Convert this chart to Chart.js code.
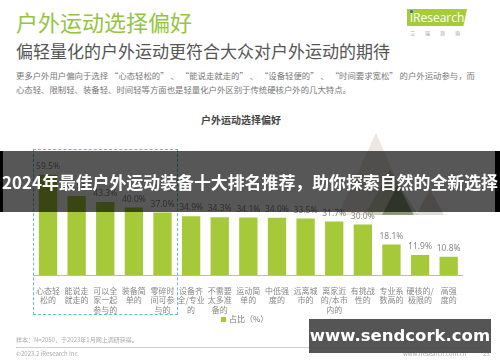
<!DOCTYPE html>
<html>
<head>
<meta charset="utf-8">
<script src="https://cdn.jsdelivr.net/npm/chart.js@4"></script>
<style>
  body { margin: 0; width: 500px; height: 362px; background: #fff; position: relative; overflow: hidden;
         font-family: "Noto Sans CJK SC", "Noto Sans", sans-serif; }
  .abs { position: absolute; white-space: nowrap; }
  #title { left: 16px; top: 6px; font-size: 22px; color: #95c541; line-height: 30px; }
  #subtitle { left: 16px; top: 40px; font-size: 17px; color: #555; line-height: 22px; }
  .para { left: 16px; font-size: 8.4px; color: #777; line-height: 12px; }
  #ctitle { left: 201px; top: 112px; font-size: 10px; font-weight: bold; color: #444; }
  #logo { left: 407px; top: 9px; width: 60px; height: 17px; background: #a6cd39;
          clip-path: polygon(0 0, 100% 0, 94% 100%, 0 100%); }
  #logo span { position: absolute; left: 3px; top: 0px; font-family: "Open Sans", sans-serif; font-size: 12px;
               color: #fff; line-height: 17px; }
  #logo i { position: absolute; left: 3px; top: 1px; width: 3px; height: 3px; border-radius: 2px; background: #2a6fb7; }
  #logosub { left: 410px; top: 29px; font-size: 5px; color: #999; letter-spacing: 10px; }
  #box { left: 33px; top: 149px; width: 143px; height: 164px; border: 1.5px dashed #6db8cc; }
  #wrap { left: 33px; top: 135px; width: 430px; height: 180px; }
  #legend { left: 221px; top: 313px; font-size: 8px; color: #777; }
  #legend b { display: inline-block; width: 5px; height: 5px; background: #a6c93a; margin-right: 3px; vertical-align: 0px; }
  .foot { font-size: 6px; color: #aaa; }
  #rule { left: 16px; top: 347px; width: 466px; height: 1px; background: #d0d0d0; }
  #band { left: 0; top: 151px; width: 500px; height: 61px; background: rgba(0,0,0,0.66);
          border-left: 3px solid #000; box-sizing: border-box; }
  #bandR { left: 495px; top: 151px; width: 5px; height: 61px; background: #000; }
  #bandtext { left: 0; top: 151px; width: 500px; height: 61px; line-height: 61px; text-align: center;
              font-size: 16.9px; font-weight: bold; color: #fff; }
  #wm { left: 309px; top: 319px; width: 182px; height: 34px; background: rgba(70,70,70,0.92); }
  #wmtext { left: 309px; top: 319px; width: 182px; height: 34px; line-height: 33px; text-align: center;
            font-family: "DejaVu Sans", sans-serif; font-weight: bold; font-size: 16.5px; color: #fff; }
</style>
</head>
<body>
<div class="abs" id="title">户外运动选择偏好</div>
<div class="abs" id="subtitle">偏轻量化的户外运动更符合大众对户外运动的期待</div>
<div class="abs para" style="top:69px">更多户外用户偏向于选择 “心态轻松的” 、 “能说走就走的” 、 “设备轻便的” 、 “时间要求宽松” 的户外运动参与，而</div>
<div class="abs para" style="top:83px">心态轻、限制轻、装备轻、时间轻等方面也是轻量化户外区别于传统硬核户外的几大特点。</div>
<div class="abs" id="logo"><i></i><span>iResearch</span></div>
<div class="abs" id="logosub">艾瑞咨询</div>
<div class="abs" id="ctitle">户外运动选择偏好</div>

<svg class="abs" style="left:320px;top:125px" width="130" height="95">
  <polygon points="18,90 56,8 92,90" fill="#d8cabc" opacity="0.45"/>
  <polygon points="45,90 70,45 98,90" fill="#8a9a6a" opacity="0.35"/>
  <polygon points="62,90 78,60 94,90" fill="#3f5a30" opacity="0.45"/>
  <polygon points="96,90 110,64 124,90" fill="#aa9a8a" opacity="0.35"/>
</svg>

<div class="abs" id="box"></div>
<div class="abs" id="wrap"><canvas id="chart"></canvas></div>
<div class="abs" id="legend"><b></b>占比（%）</div>

<div class="abs foot" style="left:16px;top:335px">样本：N=2050，于2023年1月网上调研获得。</div>
<div class="abs" id="rule"></div>
<div class="abs foot" style="left:16px;top:349px">©2023.2 iResearch Inc.</div>
<div class="abs foot" style="left:403px;top:349px">www.iresearch.com.cn</div>
<div class="abs foot" style="left:483px;top:349px">23</div>

<div class="abs" id="band"></div>
<div class="abs" id="bandR"></div>
<div class="abs" id="bandtext">2024年最佳户外运动装备十大排名推荐，助你探索自然的全新选择</div>
<div class="abs" id="wm"></div>
<div class="abs" id="wmtext">www.sendcork.com</div>

<script>
const categories = [
    ["心态轻", "松的"],
    ["能说走", "就走的"],
    ["可以全", "家一起", "参与的"],
    ["装备简", "单的"],
    ["零碎时", "间可参", "与的"],
    ["设备齐", "全/专业", "的"],
    ["不需要", "太多准", "备的"],
    ["运动简", "单的"],
    ["中低强", "度的"],
    ["远离城", "市的"],
    ["离家近", "的/本市", "内的"],
    ["有挑战", "性的"],
    ["专业系", "数高的"],
    ["硬核的/", "极限的"],
    ["高强", "度的"]
];
const shares = [59.5, 46.8, 43.3, 40.0, 37.0, 34.9, 34.3, 34.1, 34.0, 33.5, 31.7, 30.0, 18.1, 11.9, 10.8];
const seriesName = "占比（%）";

// value labels above each bar
const valueLabels = {
    id: "valueLabels",
    afterDatasetsDraw(chart) {
        const ctx = chart.ctx;
        const meta = chart.getDatasetMeta(0);
        ctx.save();
        ctx.font = "8.5px 'Noto Sans', sans-serif";
        ctx.fillStyle = "#888";
        ctx.textAlign = "center";
        ctx.textBaseline = "bottom";
        meta.data.forEach((bar, i) => {
            ctx.fillText(shares[i].toFixed(1) + "%", bar.x, bar.y - 4);
        });
        ctx.restore();
    }
};

const ctx = document.getElementById("chart").getContext("2d");
const myChart = new Chart(ctx, {
    type: "bar",
    data: {
        labels: categories,
        datasets: [{
            label: seriesName,
            data: shares,
            backgroundColor: "#a6c93a",
            barPercentage: 0.64,
            categoryPercentage: 1
        }]
    },
    options: {
        responsive: true,
        maintainAspectRatio: false,
        animation: false,
        layout: { padding: 0 },
        plugins: {
            legend: { display: false },
            tooltip: { enabled: false }
        },
        scales: {
            x: {
                grid: { display: false },
                border: { display: true, color: "#bbb", width: 1 },
                ticks: {
                    color: "#888",
                    font: { size: 8, family: "'Noto Sans CJK SC', sans-serif", lineHeight: 1.2 },
                    maxRotation: 0,
                    autoSkip: false,
                    padding: 3
                },
                afterFit(scale) { scale.height = 40; }
            },
            y: {
                display: false,
                min: 0,
                max: 83
            }
        }
    },
    plugins: [valueLabels]
});
</script>
</body>
</html>
